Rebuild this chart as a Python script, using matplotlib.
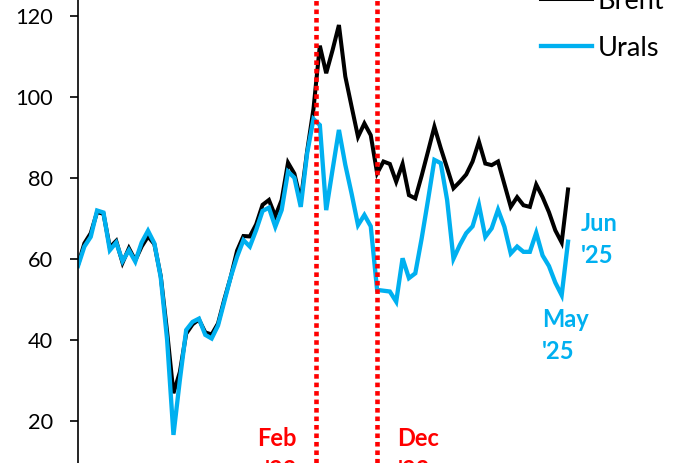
import matplotlib.pyplot as plt
import numpy as np

# monthly averages, Jan 2019 .. Jun 2025 (USD/bbl)
brent = [
    58.5, 63.8, 66.3, 71.5, 71.1, 62.8, 64.4, 59.0, 62.6, 59.6, 63.0, 65.5,
    63.6, 55.7, 42.0, 26.8, 32.0, 41.5, 43.8, 45.0, 41.8, 41.3, 44.0, 50.0,
    55.5, 62.0, 65.6, 65.5, 68.5, 73.3, 74.5, 70.5, 74.5, 83.7, 81.0, 74.3,
    86.5, 97.0, 112.6, 105.8, 111.5, 117.7, 105.0, 97.5, 90.1, 93.4, 90.5, 81.1,
    84.0, 83.4, 79.0, 83.4, 75.7, 74.9, 80.5, 86.5, 92.6, 87.3, 82.4, 77.4,
    79.0, 80.8, 84.0, 88.9, 83.5, 83.1, 84.0, 78.4, 72.8, 75.2, 73.2, 72.8,
    78.3, 75.2, 71.5, 67.0, 64.0, 77.1,
]
urals = [
    58.2, 63.0, 65.4, 71.9, 71.4, 62.1, 64.0, 59.4, 62.1, 59.3, 64.0, 66.9,
    63.8, 55.4, 40.0, 16.5, 30.0, 42.4, 44.4, 45.2, 41.2, 40.3, 43.5, 49.5,
    55.5, 60.5, 64.6, 63.0, 67.1, 71.8, 72.6, 67.9, 72.0, 81.5, 80.0, 72.8,
    86.0, 94.5, 93.0, 72.0, 82.0, 91.8, 83.2, 76.0, 68.3, 70.8, 68.0, 52.3,
    52.1, 51.9, 49.4, 60.1, 55.2, 56.4, 65.0, 74.5, 84.4, 83.6, 74.5, 60.0,
    63.4, 66.3, 68.0, 73.3, 65.4, 67.5, 72.1, 67.9, 61.3, 63.0, 61.7, 61.7,
    66.4, 60.8, 58.2, 54.1, 51.0, 64.2,
]
months = np.arange(len(brent))

# event markers (month index) and their labels
event_pos = [37.4, 47.0]
event_labels = ["Feb\n'22", "Dec\n'22"]

yticks = [20, 40, 60, 80, 100, 120]

URALS_COLOR = "#00B0F0"
RED = "#FF0000"
FONT = ["Lato", "DejaVu Sans"]

plt.rcParams["font.family"] = FONT

fig = plt.figure(figsize=(6.95, 4.63), dpi=100)
ax = fig.add_axes([78 / 695, 0, 1 - 78 / 695, 1])

ax.plot(months, brent, color="black", linewidth=2.9, label="Brent",
        solid_joinstyle="miter")
ax.plot(months, urals, color=URALS_COLOR, linewidth=3.1, label="Urals",
        solid_joinstyle="miter")

for x in event_pos:
    ax.axvline(x, color=RED, linewidth=3.3, linestyle=(0, (1, 0.85)),
               dash_capstyle="butt")

# event labels
lab = dict(fontsize=17, fontweight="bold", va="top", linespacing=1.45)
ax.text(event_pos[0] - 3.0, 18.4, event_labels[0], color=RED, ha="right", **lab)
ax.text(event_pos[1] + 3.2, 18.4, event_labels[1], color=RED, ha="left", **lab)

# end-point labels
ax.text(79.0, 71.5, "Jun\n'25", color=URALS_COLOR, ha="left", **lab)
ax.text(72.9, 47.8, "May\n'25", color=URALS_COLOR, ha="left", **lab)

ax.set_xlim(0, 96.95)
ax.set_ylim(9.56, 123.88)
ax.set_yticks(yticks)
ax.set_xticks([])

for s in ["top", "right", "bottom"]:
    ax.spines[s].set_visible(False)
ax.spines["left"].set_linewidth(1.2)
ax.tick_params(axis="y", direction="out", length=6, width=1.2,
               labelsize=15.7, pad=12)

ax.legend(loc="upper left", bbox_to_anchor=(541 / 695, 1.024),
          bbox_transform=fig.transFigure, frameon=False, fontsize=19.5,
          handlelength=1.9, handletextpad=0.2, labelspacing=0.8,
          borderpad=0, borderaxespad=0)

fig.savefig("out.png", dpi=100)
